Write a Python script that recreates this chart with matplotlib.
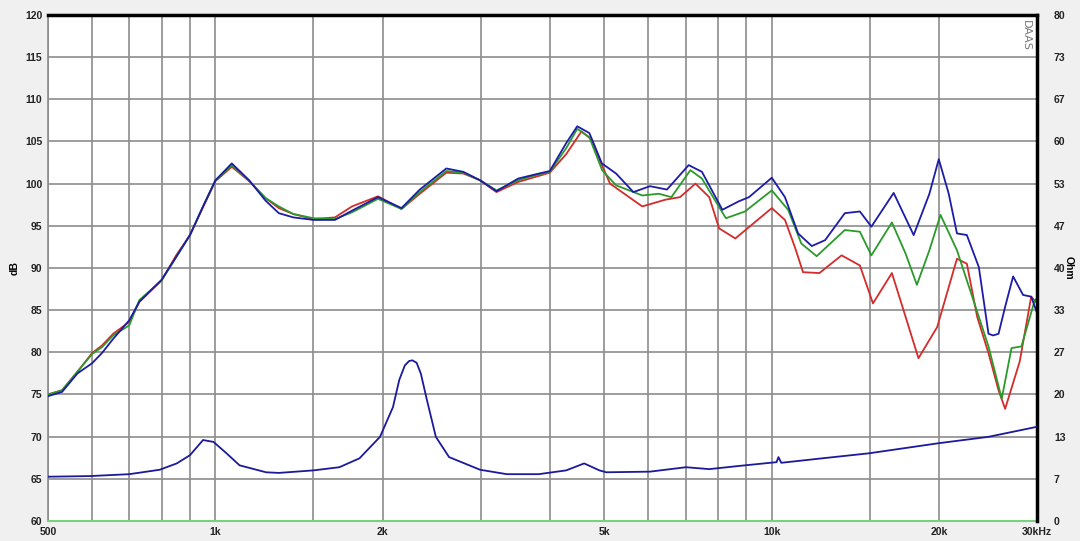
import numpy as np
import matplotlib.pyplot as plt
from matplotlib.ticker import FixedLocator, NullFormatter

# --- Données ---
# partie commune (500 Hz - 4.3 kHz), les trois courbes se superposent
freq_bas = [500, 530, 565, 600, 625, 655, 700, 730, 800, 850, 900, 950, 1000,
            1070, 1150, 1230, 1300, 1380, 1500, 1640, 1760, 1960, 2160, 2330,
            2600, 2790, 2990, 3200, 3500, 3760, 3990, 4270]
spl_bleu_bas = [74.8, 75.3, 77.5, 78.7, 79.9, 81.6, 83.8, 86.0, 88.6, 91.3,
                93.9, 97.3, 100.4, 102.4, 100.4, 98.0, 96.5, 96.0, 95.7, 95.7,
                96.8, 98.4, 97.1, 99.3, 101.8, 101.4, 100.4, 99.1, 100.6,
                101.1, 101.5, 104.8]
spl_rouge_bas = [75.0, 75.5, 77.7, 79.9, 80.8, 82.2, 83.6, 86.0, 88.5, 91.5,
                 93.9, 97.2, 100.3, 102.0, 100.3, 98.3, 97.1, 96.4, 95.8, 96.0,
                 97.3, 98.5, 97.0, 98.8, 101.3, 101.2, 100.4, 99.0, 100.2,
                 100.8, 101.3, 103.5]
spl_vert_bas = [75.0, 75.5, 77.7, 79.8, 80.6, 82.0, 83.2, 86.2, 88.5, 91.3,
                93.9, 97.3, 100.4, 102.2, 100.3, 98.3, 97.3, 96.4, 95.9, 95.8,
                96.6, 98.2, 97.0, 99.0, 101.5, 101.3, 100.4, 99.2, 100.4,
                101.0, 101.4, 104.2]

# partie haute, les courbes se séparent
freq_bleu_haut = [4470, 4700, 4950, 5250, 5640, 6040, 6480, 7090, 7490, 8150,
                  8720, 9100, 10000, 10560, 11150, 11800, 12470, 13530, 14400,
                  15100, 16560, 17990, 19200, 19960, 20800, 21520, 22420,
                  23560, 24520, 25000, 25560, 26270, 27150, 28290, 29260, 30000]
spl_bleu_haut = [106.8, 106.0, 102.4, 101.2, 99.0, 99.7, 99.3, 102.2, 101.4,
                 96.9, 97.9, 98.4, 100.7, 98.4, 94.1, 92.6, 93.3, 96.5, 96.7,
                 94.9, 98.9, 93.9, 98.8, 102.9, 98.8, 94.1, 93.9, 90.1, 82.2,
                 82.0, 82.2, 85.4, 89.0, 86.8, 86.6, 84.6]

freq_vert_haut = [4470, 4700, 4955, 5250, 5850, 6270, 6600, 7140, 7490, 8270,
                  8950, 10000, 10700, 11300, 12040, 13530, 14400, 15100, 16440,
                  17400, 18230, 19200, 20100, 21520, 23240, 24520, 25900,
                  26970, 28100, 29700, 30000]
spl_vert_haut = [106.5, 105.5, 101.6, 99.8, 98.6, 98.8, 98.4, 101.6, 100.6,
                 95.9, 96.7, 99.2, 96.9, 92.9, 91.4, 94.5, 94.3, 91.5, 95.4,
                 91.7, 88.0, 92.1, 96.3, 92.1, 85.4, 80.7, 74.5, 80.5, 80.7,
                 86.2, 86.4]

freq_rouge_haut = [4550, 4750, 4920, 5120, 5850, 6440, 6840, 7290, 7720, 8040,
                   8600, 10000, 10560, 11000, 11380, 12180, 13350, 14400, 15200,
                   16440, 17400, 18350, 19830, 21520, 22420, 23400, 24520,
                   25560, 26270, 27900, 29260, 30000]
spl_rouge_haut = [106.2, 105.2, 102.6, 100.0, 97.3, 98.1, 98.4, 100.0, 98.4,
                  94.7, 93.5, 97.1, 95.7, 92.5, 89.5, 89.4, 91.5, 90.3, 85.8,
                  89.4, 84.2, 79.3, 83.0, 91.1, 90.5, 84.2, 79.9, 75.5, 73.3,
                  78.9, 86.6, 85.8]

# impédance (Ohm, axe de droite)
freq_imp = [500, 595, 700, 794, 852, 900, 950, 992, 1047, 1105, 1233, 1300,
            1500, 1670, 1815, 1976, 2085, 2140, 2190, 2230, 2260, 2300, 2340,
            2400, 2490, 2630, 2990, 3340, 3810, 4270, 4600, 4900, 5040, 6040,
            7010, 7720, 8950, 10200, 10280, 10400, 12300, 14950, 19960, 24500,
            30000]
impedance = [7.0, 7.1, 7.4, 8.1, 9.1, 10.4, 12.8, 12.5, 10.7, 8.8, 7.7, 7.6,
             8.0, 8.5, 9.9, 13.3, 18.0, 22.3, 24.6, 25.3, 25.4, 25.0, 23.3,
             19.1, 13.3, 10.1, 8.1, 7.4, 7.4, 8.0, 9.1, 8.0, 7.7, 7.8, 8.5,
             8.2, 8.8, 9.3, 10.1, 9.2, 9.9, 10.7, 12.3, 13.3, 14.9]

ticks_freq = [500, 1000, 2000, 5000, 10000, 20000, 30000]
labels_freq = ["500", "1k", "2k", "5k", "10k", "20k", "30kHz"]
grille_freq = [600, 700, 800, 900, 1500, 3000, 4000, 6000, 7000, 8000, 9000,
               15000]

# --- Figure ---
police = {"family": "Liberation Sans", "size": 7.5, "weight": "bold"}

fig = plt.figure(figsize=(10.8, 5.41), dpi=100, facecolor="#f0f0f0")
ax = fig.add_axes([0.0444, 0.037, 0.916, 0.9353])
ax.set_facecolor("white")

rouge = "#d42b2b"
vert = "#2a9a2a"
bleu = "#1c1ca8"

ax.plot(freq_bas + freq_rouge_haut, spl_rouge_bas + spl_rouge_haut,
        color=rouge, linewidth=1.3, zorder=3)
ax.plot(freq_bas + freq_vert_haut, spl_vert_bas + spl_vert_haut,
        color=vert, linewidth=1.3, zorder=4)
ax.plot(freq_bas + freq_bleu_haut, spl_bleu_bas + spl_bleu_haut,
        color=bleu, linewidth=1.3, zorder=5)

ax.set_xscale("log")
ax.set_xlim(500, 30000)
ax.set_ylim(60, 120)
ax.xaxis.set_major_locator(FixedLocator(ticks_freq))
ax.set_xticklabels(labels_freq, fontdict=police)
ax.xaxis.set_minor_locator(FixedLocator(grille_freq))
ax.xaxis.set_minor_formatter(NullFormatter())
ax.set_yticks(np.arange(60, 121, 5))
ax.set_yticklabels([str(v) for v in range(60, 121, 5)], fontdict=police)
ax.tick_params(which="both", length=0, pad=4, colors="#222222")
ax.grid(True, which="both", color="#8c8c8c", linewidth=1.2)
ax.set_axisbelow(True)

ax.spines["left"].set_color("#8c8c8c")
ax.spines["left"].set_linewidth(1.2)
ax.spines["top"].set_color("black")
ax.spines["top"].set_linewidth(2.5)
ax.spines["bottom"].set_color("#7ccf7c")
ax.spines["bottom"].set_linewidth(1.5)
ax.spines["right"].set_visible(False)

ax.set_ylabel("dB", fontdict=police, labelpad=4)

# axe de droite : impédance
ax2 = ax.twinx()
ax2.plot(freq_imp, impedance, color="#1a1a9a", linewidth=1.3, zorder=5)
ax2.set_ylim(0, 80)
ticks_ohm = np.linspace(0, 80, 13)
ax2.set_yticks(ticks_ohm)
ax2.set_yticklabels([str(int(round(v))) for v in ticks_ohm], fontdict=police)
ax2.tick_params(length=0, pad=12, colors="#222222")
ax2.spines["right"].set_color("black")
ax2.spines["right"].set_linewidth(2.5)
ax2.spines["top"].set_visible(False)
ax2.spines["left"].set_visible(False)
ax2.spines["bottom"].set_visible(False)
ax2.set_ylabel("Ohm", fontdict=police, rotation=270, labelpad=6)

ax.text(0.994, 0.99, "DAAS", transform=ax.transAxes, rotation=270,
        ha="right", va="top", fontsize=8, color="#777777", zorder=6)

plt.savefig("out.png", dpi=100, facecolor=fig.get_facecolor())
